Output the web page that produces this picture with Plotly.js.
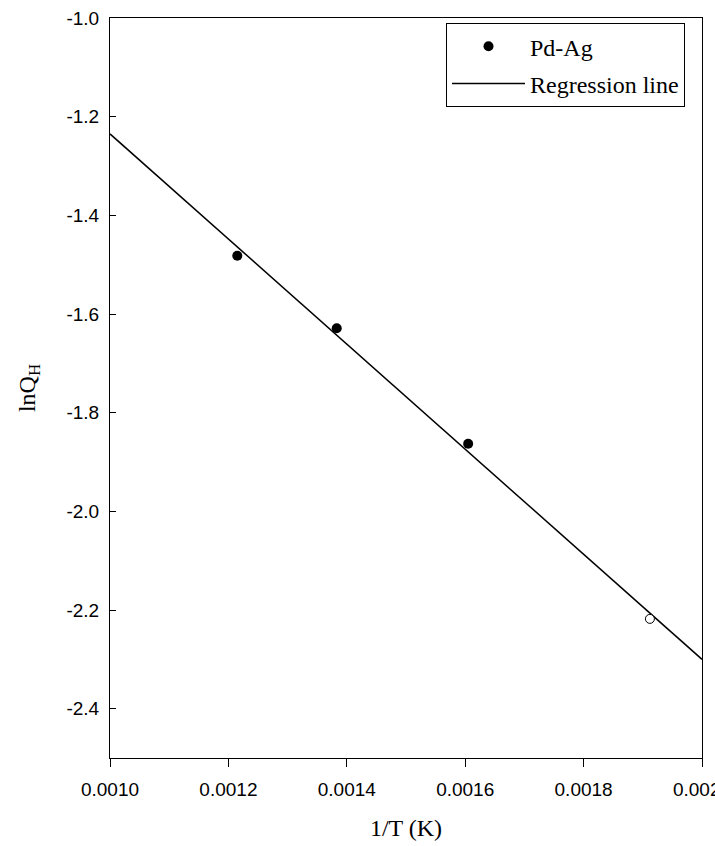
<!DOCTYPE html>
<html>
<head>
<meta charset="utf-8">
<script src="https://cdn.plot.ly/plotly-3.0.1.min.js"></script>
<style>html,body{margin:0;padding:0;background:#fff;}#chart{width:715px;height:846px;}</style>
</head>
<body>
<div id="chart"></div>
<script>
// Measured points (Pd-Ag)
const invT = [0.001215, 0.001383, 0.001605];
const lnQH = [-1.482, -1.629, -1.863];
// Open (excluded) point
const invTOpen = [0.001912];
const lnQHOpen = [-2.218];
// Regression line endpoints
const regX = [0.0010, 0.0020];
const regY = [-1.235, -2.300];
const xTicks = [0.0010, 0.0012, 0.0014, 0.0016, 0.0018, 0.0020];
const xTickText = ['0.0010', '0.0012', '0.0014', '0.0016', '0.0018', '0.0020'];
const yTicks = [-2.4, -2.2, -2.0, -1.8, -1.6, -1.4, -1.2, -1.0];
const yTickText = ['-2.4', '-2.2', '-2.0', '-1.8', '-1.6', '-1.4', '-1.2', '-1.0'];

const traces = [
  {x: invT, y: lnQH, mode: 'markers', name: 'Pd-Ag', type: 'scatter', legendgroup: 'a',
   marker: {color: '#000', size: 10, symbol: 'circle'}},
  {x: regX, y: regY, mode: 'lines', name: 'Regression line', type: 'scatter', legendgroup: 'b',
   line: {color: '#000', width: 1.5}},
  {x: invTOpen, y: lnQHOpen, mode: 'markers', showlegend: false, type: 'scatter',
   marker: {color: '#fff', size: 9, symbol: 'circle', line: {color: '#000', width: 1}}}
];

const layout = {
  width: 715, height: 846,
  margin: {l: 110, r: 13, t: 18, b: 88},
  paper_bgcolor: '#fff', plot_bgcolor: '#fff',
  showlegend: true,
  legend: {x: 0.5676, y: 0.993, xanchor: 'left', yanchor: 'top',
    bordercolor: '#000', borderwidth: 1, bgcolor: '#fff',
    font: {family: 'Liberation Serif, serif', size: 24, color: '#000'},
    itemwidth: 73, traceorder: 'grouped', tracegroupgap: 3},
  xaxis: {range: [0.0010, 0.0020], tickvals: xTicks, ticktext: xTickText, ticklabeloverflow: 'allow',
    showgrid: false, zeroline: false, showline: true, linecolor: '#000', linewidth: 1,
    mirror: true, ticks: 'outside', ticklen: 8, tickcolor: '#000', ticklabelstandoff: 6,
    tickfont: {family: 'Liberation Sans, Arial, sans-serif', size: 19, color: '#000'},
    title: {text: '1/T (K)', font: {family: 'Liberation Serif, serif', size: 24, color: '#000'}, standoff: 20}},
  yaxis: {range: [-2.5, -1.0], tickvals: yTicks, ticktext: yTickText,
    showgrid: false, zeroline: false, showline: true, linecolor: '#000', linewidth: 1,
    mirror: true, ticks: 'inside', ticklen: 6, tickcolor: '#000', ticklabelstandoff: 6,
    tickfont: {family: 'Liberation Sans, Arial, sans-serif', size: 19, color: '#000'},
    title: {text: 'lnQ<sub>H</sub>', font: {family: 'Liberation Serif, serif', size: 24, color: '#000'}, standoff: 24}}
};

Plotly.newPlot('chart', traces, layout, {displayModeBar: false, staticPlot: true});
</script>
</body>
</html>
